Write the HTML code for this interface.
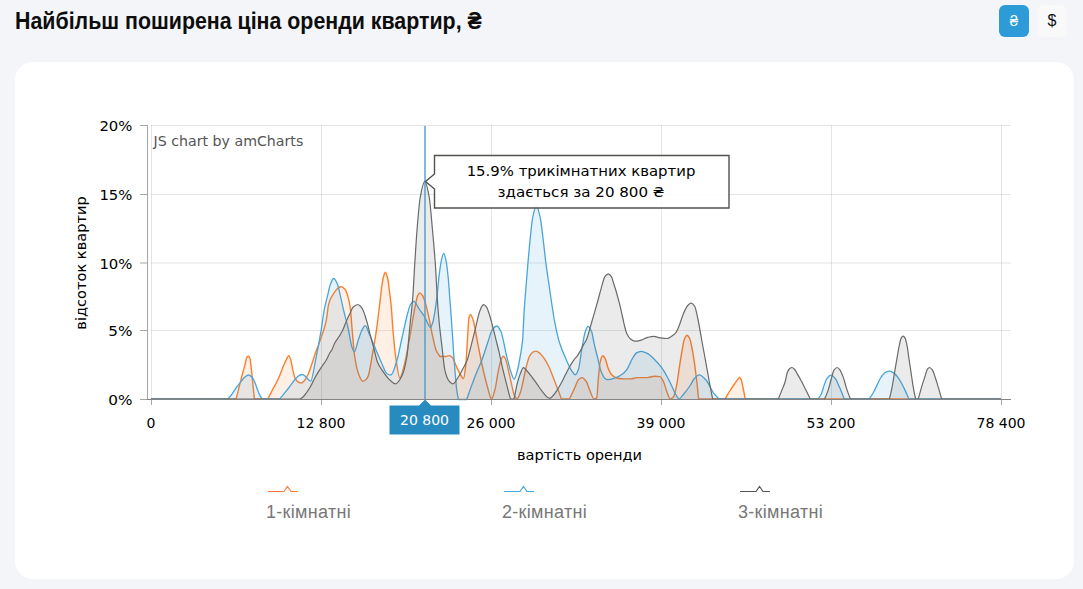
<!DOCTYPE html>
<html lang="uk">
<head>
<meta charset="utf-8">
<title>Найбільш поширена ціна оренди квартир</title>
<style>
html,body{margin:0;padding:0;}
body{width:1083px;height:589px;background:#f4f5f9;position:relative;overflow:hidden;font-family:"Liberation Sans",Arial,sans-serif;}
h1{position:absolute;left:15px;top:7px;margin:0;font-size:24px;line-height:28px;font-weight:700;color:#0d0d0d;white-space:nowrap;transform:scaleX(0.89);transform-origin:0 0;}
.btn{position:absolute;top:5px;width:30px;height:32px;border-radius:6px;text-align:center;line-height:32px;font-size:16px;font-family:"DejaVu Sans","Liberation Sans",sans-serif;}
.b1{left:999px;background:#2d9bd7;color:#fff;font-size:15px;font-family:"Liberation Sans",sans-serif;}
.b2{left:1037px;background:#f9f9fa;color:#111;font-family:"Liberation Sans",sans-serif;}
.card{position:absolute;left:15px;top:62px;width:1059px;height:517px;background:#fff;border-radius:18px;}
svg.chart{position:absolute;left:0;top:0;}
svg text{font-family:"DejaVu Sans",Verdana,sans-serif;}
.leg{position:absolute;top:501px;font-size:18px;color:#777;line-height:22px;white-space:nowrap;letter-spacing:0.3px;}
</style>
</head>
<body>
<h1>Найбільш поширена ціна оренди квартир, ₴</h1>
<div class="btn b1">₴</div>
<div class="btn b2">$</div>
<div class="card"></div>
<svg class="chart" width="1083" height="589" viewBox="0 0 1083 589">
  <!-- grid -->
  <g stroke="#000" stroke-opacity="0.1" stroke-width="1" fill="none">
    <path d="M151,125.5H1011M151,194.5H1011M151,263H1011M151,330.5H1011"/>
  </g>
  <g stroke="#000" stroke-opacity="0.1" stroke-width="1" fill="none">
    <path d="M151.5,125V399M321.5,125V399M491.5,125V399M661.5,125V399M831.5,125V399M1001.5,125V399"/>
  </g>
  <!-- axes -->
  <g stroke="#a6a6a6" stroke-width="1" fill="none">
    <path d="M147.5,125V399.5"/>
    <path d="M140,125.5H148M140,194.5H148M140,263H148M140,330.5H148M140,399.5H151"/>
    <path d="M151.5,399V405M321.5,399V405M491.5,399V405M661.5,399V405M831.5,399V405M1001.5,399V405"/>
  </g>
  <!-- series -->
  <path d="M151.0,399.0L213.0,399.0C214.83,398.92 216.67,398.70 218.50,398.70C220.33,398.70 222.17,398.92 224.00,399.00L236.1,399.0C237.80,393.22 239.50,385.09 241.20,378.60C242.40,374.02 243.60,369.98 244.80,365.40C245.47,362.86 246.13,358.49 246.80,357.50C247.33,356.71 247.87,356.00 248.40,356.00C248.90,356.00 249.40,356.97 249.90,358.20C250.40,359.43 250.90,365.10 251.40,369.40C251.93,373.99 252.47,380.65 253.00,385.70C253.50,390.44 254.00,395.23 254.50,399.00L267.7,399.0C269.27,396.45 270.83,392.96 272.40,390.00C274.13,386.72 275.87,383.85 277.60,380.30C278.10,379.28 278.60,378.17 279.10,377.00C280.67,373.34 282.23,368.58 283.80,365.00C284.87,362.56 285.93,360.20 287.00,358.30C287.57,357.29 288.13,355.60 288.70,355.60C289.40,355.60 290.10,357.93 290.80,360.00C291.50,362.07 292.20,367.61 292.90,370.50C293.60,373.39 294.30,376.46 295.00,377.90C295.87,379.68 296.73,381.04 297.60,381.60C298.87,382.41 300.13,383.10 301.40,383.10C302.43,383.10 303.47,381.66 304.50,380.50C305.67,379.19 306.83,376.93 308.00,374.50C310.60,369.08 313.20,359.22 315.80,352.00C317.53,347.18 319.27,343.15 321.00,338.00C322.73,332.85 324.47,328.91 326.20,320.80C326.97,317.21 327.73,308.25 328.50,305.00C329.17,302.18 329.83,300.29 330.50,298.80C331.40,296.79 332.30,295.53 333.20,294.20C334.77,291.88 336.33,289.19 337.90,288.20C338.97,287.53 340.03,286.80 341.10,286.80C342.47,286.80 343.83,288.00 345.20,289.50C346.13,290.52 347.07,293.68 348.00,296.90C348.77,299.54 349.53,302.64 350.30,308.00C350.87,311.96 351.43,321.67 352.00,328.00C352.90,338.06 353.80,350.67 354.70,356.50C355.97,364.71 357.23,370.40 358.50,373.70C359.90,377.35 361.30,381.30 362.70,381.30C363.63,381.30 364.57,380.66 365.50,380.00C366.40,379.37 367.30,378.06 368.20,376.10C369.53,373.20 370.87,363.04 372.20,355.70C373.57,348.18 374.93,340.56 376.30,331.20C377.33,324.12 378.37,315.00 379.40,306.70C380.40,298.67 381.40,287.79 382.40,282.20C382.90,279.40 383.40,276.97 383.90,275.50C384.40,274.03 384.90,272.20 385.40,272.20C386.17,272.20 386.93,275.41 387.70,278.50C388.33,281.06 388.97,287.28 389.60,292.30C390.20,297.06 390.80,301.44 391.40,308.00C391.87,313.11 392.33,322.51 392.80,328.00C394.00,342.11 395.20,354.80 396.40,362.20C397.53,369.19 398.67,377.80 399.80,377.80C401.20,377.80 402.60,370.97 404.00,366.00C405.90,359.26 407.80,347.59 409.70,337.50C411.60,327.41 413.50,314.41 415.40,305.20C416.10,301.81 416.80,297.45 417.50,296.00C418.27,294.41 419.03,292.90 419.80,292.90C420.70,292.90 421.60,294.24 422.50,295.50C423.30,296.62 424.10,299.01 424.90,301.40C426.17,305.19 427.43,310.97 428.70,316.60C429.97,322.23 431.23,329.97 432.50,335.60C433.77,341.23 435.03,348.04 436.30,350.80C437.57,353.56 438.83,354.88 440.10,356.50L445.7,356.5C446.97,356.25 448.23,355.60 449.50,355.60C450.47,355.60 451.43,356.54 452.40,357.50C453.67,358.75 454.93,363.31 456.20,366.00C457.47,368.69 458.73,371.61 460.00,373.70C461.17,375.63 462.33,378.60 463.50,378.60C464.23,378.60 464.97,372.15 465.70,366.00C466.33,360.69 466.97,346.87 467.60,337.50C468.03,331.09 468.47,320.49 468.90,318.50C469.40,316.21 469.90,314.50 470.40,314.50C471.37,314.50 472.33,317.59 473.30,320.40C474.23,323.11 475.17,329.70 476.10,334.50C477.40,341.18 478.70,348.63 480.00,355.00C481.23,361.04 482.47,366.76 483.70,372.00C484.97,377.38 486.23,382.68 487.50,387.00C488.83,391.55 490.17,399.00 491.50,399.00C492.67,399.00 493.83,393.79 495.00,389.50C496.07,385.58 497.13,376.62 498.20,371.60C499.23,366.74 500.27,360.95 501.30,359.00C502.00,357.68 502.70,356.30 503.40,356.30C504.10,356.30 504.80,357.69 505.50,359.00C506.57,361.00 507.63,367.16 508.70,371.60C509.73,375.90 510.77,381.03 511.80,385.30C512.70,389.02 513.60,394.20 514.50,395.80C515.37,397.34 516.23,398.80 517.10,398.80C518.17,398.80 519.23,395.40 520.30,392.60C521.33,389.88 522.37,384.46 523.40,380.00C524.47,375.40 525.53,369.22 526.60,365.30C527.63,361.51 528.67,357.54 529.70,355.80C530.77,354.00 531.83,352.62 532.90,352.10C533.97,351.58 535.03,351.10 536.10,351.10C537.50,351.10 538.90,352.54 540.30,353.70C541.70,354.86 543.10,356.86 544.50,358.90C545.90,360.94 547.30,363.44 548.70,366.30C549.73,368.41 550.77,371.12 551.80,373.70C552.87,376.37 553.93,379.34 555.00,382.10C556.17,385.11 557.33,387.96 558.50,391.00C559.50,393.60 560.50,396.73 561.50,399.00L569.3,399.0C571.03,396.00 572.77,392.05 574.50,388.40C575.83,385.59 577.17,380.96 578.50,379.70C579.63,378.63 580.77,377.60 581.90,377.60C583.37,377.60 584.83,379.53 586.30,381.50C587.43,383.02 588.57,387.54 589.70,390.10C591.17,393.41 592.63,399.00 594.10,399.00C594.97,399.00 595.83,398.66 596.70,397.90C597.27,397.41 597.83,383.83 598.40,378.00C598.97,372.17 599.53,364.75 600.10,362.40C600.97,358.81 601.83,355.80 602.70,355.80C603.57,355.80 604.43,357.38 605.30,358.90C606.17,360.42 607.03,365.42 607.90,367.60C609.07,370.53 610.23,373.29 611.40,374.50C613.13,376.30 614.87,377.61 616.60,378.00C618.90,378.52 621.20,378.64 623.50,378.90L630.5,378.9C632.80,378.53 635.10,377.97 637.40,377.60L647.8,377.6C650.10,377.23 652.40,376.30 654.70,376.30C656.43,376.30 658.17,376.40 659.90,376.60C661.07,376.74 662.23,379.28 663.40,381.50C664.57,383.72 665.73,389.04 666.90,391.90C668.03,394.68 669.17,399.00 670.30,399.00C671.40,399.00 672.50,398.05 673.60,396.80C674.70,395.55 675.80,389.50 676.90,384.00C677.70,380.00 678.50,373.00 679.30,367.80C680.17,362.16 681.03,356.25 681.90,351.50C682.73,346.93 683.57,341.29 684.40,339.30C685.27,337.23 686.13,335.20 687.00,335.20C687.83,335.20 688.67,336.67 689.50,338.20C690.53,340.10 691.57,346.11 692.60,351.50C693.43,355.84 694.27,361.73 695.10,367.80C695.80,372.90 696.50,378.65 697.20,385.00C697.67,389.23 698.13,395.03 698.60,399.00L725.0,399.0C726.50,396.88 728.00,393.87 729.50,391.50C731.17,388.87 732.83,386.39 734.50,384.00C735.83,382.09 737.17,380.00 738.50,378.50C738.87,378.09 739.23,377.40 739.60,377.40C740.07,377.40 740.53,378.38 741.00,379.30C741.70,380.68 742.40,384.83 743.10,388.00C743.83,391.32 744.57,395.88 745.30,399.00L1001.0,399.0L1001.0,399L151.0,399Z" fill="#ff7f27" fill-opacity="0.12" stroke="none"/>
  <path d="M151.0,399.0L213.0,399.0C214.83,398.92 216.67,398.70 218.50,398.70C220.33,398.70 222.17,398.92 224.00,399.00L236.1,399.0C237.80,393.22 239.50,385.09 241.20,378.60C242.40,374.02 243.60,369.98 244.80,365.40C245.47,362.86 246.13,358.49 246.80,357.50C247.33,356.71 247.87,356.00 248.40,356.00C248.90,356.00 249.40,356.97 249.90,358.20C250.40,359.43 250.90,365.10 251.40,369.40C251.93,373.99 252.47,380.65 253.00,385.70C253.50,390.44 254.00,395.23 254.50,399.00L267.7,399.0C269.27,396.45 270.83,392.96 272.40,390.00C274.13,386.72 275.87,383.85 277.60,380.30C278.10,379.28 278.60,378.17 279.10,377.00C280.67,373.34 282.23,368.58 283.80,365.00C284.87,362.56 285.93,360.20 287.00,358.30C287.57,357.29 288.13,355.60 288.70,355.60C289.40,355.60 290.10,357.93 290.80,360.00C291.50,362.07 292.20,367.61 292.90,370.50C293.60,373.39 294.30,376.46 295.00,377.90C295.87,379.68 296.73,381.04 297.60,381.60C298.87,382.41 300.13,383.10 301.40,383.10C302.43,383.10 303.47,381.66 304.50,380.50C305.67,379.19 306.83,376.93 308.00,374.50C310.60,369.08 313.20,359.22 315.80,352.00C317.53,347.18 319.27,343.15 321.00,338.00C322.73,332.85 324.47,328.91 326.20,320.80C326.97,317.21 327.73,308.25 328.50,305.00C329.17,302.18 329.83,300.29 330.50,298.80C331.40,296.79 332.30,295.53 333.20,294.20C334.77,291.88 336.33,289.19 337.90,288.20C338.97,287.53 340.03,286.80 341.10,286.80C342.47,286.80 343.83,288.00 345.20,289.50C346.13,290.52 347.07,293.68 348.00,296.90C348.77,299.54 349.53,302.64 350.30,308.00C350.87,311.96 351.43,321.67 352.00,328.00C352.90,338.06 353.80,350.67 354.70,356.50C355.97,364.71 357.23,370.40 358.50,373.70C359.90,377.35 361.30,381.30 362.70,381.30C363.63,381.30 364.57,380.66 365.50,380.00C366.40,379.37 367.30,378.06 368.20,376.10C369.53,373.20 370.87,363.04 372.20,355.70C373.57,348.18 374.93,340.56 376.30,331.20C377.33,324.12 378.37,315.00 379.40,306.70C380.40,298.67 381.40,287.79 382.40,282.20C382.90,279.40 383.40,276.97 383.90,275.50C384.40,274.03 384.90,272.20 385.40,272.20C386.17,272.20 386.93,275.41 387.70,278.50C388.33,281.06 388.97,287.28 389.60,292.30C390.20,297.06 390.80,301.44 391.40,308.00C391.87,313.11 392.33,322.51 392.80,328.00C394.00,342.11 395.20,354.80 396.40,362.20C397.53,369.19 398.67,377.80 399.80,377.80C401.20,377.80 402.60,370.97 404.00,366.00C405.90,359.26 407.80,347.59 409.70,337.50C411.60,327.41 413.50,314.41 415.40,305.20C416.10,301.81 416.80,297.45 417.50,296.00C418.27,294.41 419.03,292.90 419.80,292.90C420.70,292.90 421.60,294.24 422.50,295.50C423.30,296.62 424.10,299.01 424.90,301.40C426.17,305.19 427.43,310.97 428.70,316.60C429.97,322.23 431.23,329.97 432.50,335.60C433.77,341.23 435.03,348.04 436.30,350.80C437.57,353.56 438.83,354.88 440.10,356.50L445.7,356.5C446.97,356.25 448.23,355.60 449.50,355.60C450.47,355.60 451.43,356.54 452.40,357.50C453.67,358.75 454.93,363.31 456.20,366.00C457.47,368.69 458.73,371.61 460.00,373.70C461.17,375.63 462.33,378.60 463.50,378.60C464.23,378.60 464.97,372.15 465.70,366.00C466.33,360.69 466.97,346.87 467.60,337.50C468.03,331.09 468.47,320.49 468.90,318.50C469.40,316.21 469.90,314.50 470.40,314.50C471.37,314.50 472.33,317.59 473.30,320.40C474.23,323.11 475.17,329.70 476.10,334.50C477.40,341.18 478.70,348.63 480.00,355.00C481.23,361.04 482.47,366.76 483.70,372.00C484.97,377.38 486.23,382.68 487.50,387.00C488.83,391.55 490.17,399.00 491.50,399.00C492.67,399.00 493.83,393.79 495.00,389.50C496.07,385.58 497.13,376.62 498.20,371.60C499.23,366.74 500.27,360.95 501.30,359.00C502.00,357.68 502.70,356.30 503.40,356.30C504.10,356.30 504.80,357.69 505.50,359.00C506.57,361.00 507.63,367.16 508.70,371.60C509.73,375.90 510.77,381.03 511.80,385.30C512.70,389.02 513.60,394.20 514.50,395.80C515.37,397.34 516.23,398.80 517.10,398.80C518.17,398.80 519.23,395.40 520.30,392.60C521.33,389.88 522.37,384.46 523.40,380.00C524.47,375.40 525.53,369.22 526.60,365.30C527.63,361.51 528.67,357.54 529.70,355.80C530.77,354.00 531.83,352.62 532.90,352.10C533.97,351.58 535.03,351.10 536.10,351.10C537.50,351.10 538.90,352.54 540.30,353.70C541.70,354.86 543.10,356.86 544.50,358.90C545.90,360.94 547.30,363.44 548.70,366.30C549.73,368.41 550.77,371.12 551.80,373.70C552.87,376.37 553.93,379.34 555.00,382.10C556.17,385.11 557.33,387.96 558.50,391.00C559.50,393.60 560.50,396.73 561.50,399.00L569.3,399.0C571.03,396.00 572.77,392.05 574.50,388.40C575.83,385.59 577.17,380.96 578.50,379.70C579.63,378.63 580.77,377.60 581.90,377.60C583.37,377.60 584.83,379.53 586.30,381.50C587.43,383.02 588.57,387.54 589.70,390.10C591.17,393.41 592.63,399.00 594.10,399.00C594.97,399.00 595.83,398.66 596.70,397.90C597.27,397.41 597.83,383.83 598.40,378.00C598.97,372.17 599.53,364.75 600.10,362.40C600.97,358.81 601.83,355.80 602.70,355.80C603.57,355.80 604.43,357.38 605.30,358.90C606.17,360.42 607.03,365.42 607.90,367.60C609.07,370.53 610.23,373.29 611.40,374.50C613.13,376.30 614.87,377.61 616.60,378.00C618.90,378.52 621.20,378.64 623.50,378.90L630.5,378.9C632.80,378.53 635.10,377.97 637.40,377.60L647.8,377.6C650.10,377.23 652.40,376.30 654.70,376.30C656.43,376.30 658.17,376.40 659.90,376.60C661.07,376.74 662.23,379.28 663.40,381.50C664.57,383.72 665.73,389.04 666.90,391.90C668.03,394.68 669.17,399.00 670.30,399.00C671.40,399.00 672.50,398.05 673.60,396.80C674.70,395.55 675.80,389.50 676.90,384.00C677.70,380.00 678.50,373.00 679.30,367.80C680.17,362.16 681.03,356.25 681.90,351.50C682.73,346.93 683.57,341.29 684.40,339.30C685.27,337.23 686.13,335.20 687.00,335.20C687.83,335.20 688.67,336.67 689.50,338.20C690.53,340.10 691.57,346.11 692.60,351.50C693.43,355.84 694.27,361.73 695.10,367.80C695.80,372.90 696.50,378.65 697.20,385.00C697.67,389.23 698.13,395.03 698.60,399.00L725.0,399.0C726.50,396.88 728.00,393.87 729.50,391.50C731.17,388.87 732.83,386.39 734.50,384.00C735.83,382.09 737.17,380.00 738.50,378.50C738.87,378.09 739.23,377.40 739.60,377.40C740.07,377.40 740.53,378.38 741.00,379.30C741.70,380.68 742.40,384.83 743.10,388.00C743.83,391.32 744.57,395.88 745.30,399.00L1001.0,399.0" fill="none" stroke="#fd7f2a" stroke-width="1.4" stroke-linejoin="round"/>
  <path d="M151.0,399.0L228.0,399.0C229.37,397.56 230.73,395.77 232.10,393.90C233.43,392.07 234.77,389.63 236.10,387.80C237.47,385.93 238.83,384.40 240.20,382.70C241.57,381.00 242.93,378.75 244.30,377.60C245.67,376.45 247.03,375.00 248.40,375.00C249.57,375.00 250.73,376.04 251.90,377.10C252.93,378.04 253.97,380.40 255.00,382.70C255.83,384.55 256.67,387.62 257.50,389.80C258.20,391.63 258.90,393.52 259.60,394.90C260.43,396.54 261.27,397.84 262.10,399.00L279.7,399.0C282.80,395.74 285.90,391.29 289.00,387.50C292.23,383.55 295.47,377.46 298.70,375.80C299.90,375.18 301.10,374.50 302.30,374.50C303.53,374.50 304.77,376.06 306.00,377.00C307.53,378.17 309.07,381.10 310.60,381.10C312.33,381.10 314.07,367.21 315.80,359.00C317.53,350.79 319.27,341.54 321.00,331.20C322.07,324.83 323.13,315.55 324.20,310.00C325.37,303.93 326.53,299.88 327.70,295.10C328.63,291.27 329.57,286.26 330.50,284.00C331.57,281.42 332.63,278.50 333.70,278.50C334.93,278.50 336.17,281.29 337.40,284.00C338.47,286.34 339.53,292.37 340.60,296.90C341.50,300.73 342.40,305.19 343.30,309.00C344.90,315.77 346.50,320.90 348.10,328.00C349.37,333.62 350.63,343.49 351.90,347.00C352.70,349.21 353.50,351.80 354.30,351.80C355.70,351.80 357.10,343.33 358.50,339.40C359.67,336.12 360.83,332.08 362.00,330.00C363.07,328.10 364.13,325.70 365.20,325.70C366.77,325.70 368.33,332.14 369.90,335.60C371.80,339.80 373.70,344.47 375.60,348.90C377.50,353.33 379.40,358.09 381.30,362.20C383.20,366.31 385.10,372.66 387.00,373.70C388.30,374.41 389.60,375.00 390.90,375.00C392.73,375.00 394.57,367.74 396.40,362.20C398.30,356.46 400.20,345.73 402.10,337.50C404.00,329.27 405.90,319.50 407.80,312.80C408.70,309.63 409.60,305.82 410.50,304.50C411.60,302.89 412.70,301.40 413.80,301.40C415.60,301.40 417.40,306.43 419.20,309.00C421.03,311.62 422.87,313.81 424.70,317.00C425.67,318.68 426.63,321.23 427.60,323.00C428.53,324.71 429.47,327.60 430.40,327.60C431.27,327.60 432.13,324.35 433.00,321.50C433.77,318.98 434.53,314.10 435.30,309.20C436.07,304.30 436.83,297.81 437.60,290.90C438.10,286.39 438.60,279.69 439.10,275.60C439.87,269.33 440.63,263.47 441.40,260.30C442.17,257.13 442.93,253.40 443.70,253.40C444.47,253.40 445.23,256.96 446.00,260.30C446.77,263.64 447.53,270.84 448.30,278.60C448.80,283.66 449.30,291.87 449.80,298.50C450.30,305.13 450.80,311.51 451.30,318.40C451.73,324.37 452.17,330.70 452.60,337.00C453.17,345.24 453.73,354.99 454.30,362.20C455.23,374.07 456.17,386.69 457.10,392.70C457.57,395.71 458.03,397.57 458.50,399.50L466.6,399.5C467.87,396.50 469.13,392.36 470.40,388.90C472.30,383.71 474.20,378.45 476.10,373.70C478.00,368.95 479.90,365.31 481.80,360.30C483.70,355.29 485.60,348.67 487.50,343.20C489.10,338.60 490.70,332.00 492.30,329.90C493.80,327.93 495.30,326.00 496.80,326.00C498.13,326.00 499.47,328.63 500.80,331.20C502.73,334.93 504.67,348.12 506.60,355.80C508.00,361.36 509.40,367.71 510.80,371.60C511.93,374.75 513.07,379.20 514.20,379.20C515.17,379.20 516.13,374.89 517.10,371.60C518.17,367.97 519.23,361.98 520.30,355.80C521.07,351.36 521.83,347.90 522.60,340.00C523.13,334.51 523.67,318.54 524.20,310.40C524.87,300.22 525.53,293.13 526.20,284.70C526.80,277.12 527.40,269.26 528.00,262.30C528.63,254.96 529.27,247.85 529.90,241.70C530.83,232.64 531.77,221.79 532.70,217.40C533.93,211.59 535.17,205.80 536.40,205.80C537.67,205.80 538.93,211.82 540.20,217.40C541.27,222.10 542.33,233.08 543.40,241.70C544.20,248.17 545.00,256.10 545.80,262.30C546.87,270.57 547.93,277.28 549.00,284.70C549.83,290.50 550.67,296.51 551.50,302.00C552.50,308.59 553.50,315.60 554.50,320.80C556.23,329.82 557.97,337.75 559.70,343.30C562.03,350.77 564.37,355.56 566.70,360.70C568.43,364.52 570.17,368.66 571.90,371.10C573.03,372.69 574.17,374.90 575.30,374.90C576.37,374.90 577.43,372.19 578.50,369.30C579.63,366.23 580.77,354.70 581.90,348.50C583.07,342.12 584.23,334.31 585.40,331.20C586.27,328.89 587.13,326.30 588.00,326.30C589.17,326.30 590.33,328.62 591.50,331.20C592.37,333.12 593.23,339.52 594.10,343.30C595.23,348.25 596.37,352.63 597.50,357.20C598.67,361.90 599.83,368.03 601.00,371.10C602.17,374.17 603.33,377.07 604.50,378.00C605.63,378.90 606.77,379.70 607.90,379.70C610.23,379.70 612.57,378.77 614.90,378.00C617.20,377.24 619.50,376.07 621.80,374.50C623.53,373.32 625.27,371.61 627.00,369.30C628.73,366.99 630.47,361.73 632.20,358.90C633.63,356.56 635.07,353.73 636.50,352.90C637.97,352.05 639.43,351.30 640.90,351.30C643.20,351.30 645.50,352.55 647.80,353.70C650.10,354.85 652.40,357.53 654.70,359.80C657.03,362.10 659.37,364.45 661.70,367.60C663.43,369.94 665.17,373.14 666.90,376.30C668.63,379.46 670.37,383.12 672.10,386.70C673.40,389.38 674.70,392.93 676.00,395.00C677.03,396.64 678.07,399.00 679.10,399.00C680.40,399.00 681.70,396.49 683.00,395.00C685.50,392.14 688.00,388.81 690.50,385.00C691.67,383.22 692.83,380.29 694.00,379.00C695.73,377.08 697.47,374.90 699.20,374.90C701.60,374.90 704.00,377.91 706.40,380.50C708.80,383.09 711.20,390.07 713.60,393.20C715.43,395.59 717.27,397.36 719.10,399.00L817.9,399.0C819.10,397.50 820.30,396.19 821.50,393.70C822.33,391.97 823.17,387.91 824.00,385.60C825.00,382.83 826.00,379.61 827.00,378.40C828.37,376.75 829.73,375.20 831.10,375.20C832.47,375.20 833.83,376.85 835.20,378.40C836.53,379.91 837.87,383.67 839.20,386.60C840.07,388.51 840.93,390.59 841.80,392.70C842.63,394.73 843.47,397.21 844.30,399.00L869.2,399.0C870.50,397.30 871.80,395.27 873.10,393.00C874.40,390.73 875.70,387.72 877.00,385.10C878.30,382.48 879.60,379.15 880.90,377.30C882.43,375.12 883.97,373.02 885.50,372.30C886.80,371.69 888.10,371.10 889.40,371.10C890.93,371.10 892.47,372.14 894.00,373.10C895.30,373.91 896.60,375.60 897.90,377.30C899.20,379.00 900.50,381.43 901.80,383.80C902.90,385.81 904.00,388.10 905.10,390.40C906.40,393.12 907.70,396.56 909.00,399.00L1001.0,399.0L1001.0,399L151.0,399Z" fill="#3aa0dc" fill-opacity="0.12" stroke="none"/>
  <path d="M151.0,399.0L228.0,399.0C229.37,397.56 230.73,395.77 232.10,393.90C233.43,392.07 234.77,389.63 236.10,387.80C237.47,385.93 238.83,384.40 240.20,382.70C241.57,381.00 242.93,378.75 244.30,377.60C245.67,376.45 247.03,375.00 248.40,375.00C249.57,375.00 250.73,376.04 251.90,377.10C252.93,378.04 253.97,380.40 255.00,382.70C255.83,384.55 256.67,387.62 257.50,389.80C258.20,391.63 258.90,393.52 259.60,394.90C260.43,396.54 261.27,397.84 262.10,399.00L279.7,399.0C282.80,395.74 285.90,391.29 289.00,387.50C292.23,383.55 295.47,377.46 298.70,375.80C299.90,375.18 301.10,374.50 302.30,374.50C303.53,374.50 304.77,376.06 306.00,377.00C307.53,378.17 309.07,381.10 310.60,381.10C312.33,381.10 314.07,367.21 315.80,359.00C317.53,350.79 319.27,341.54 321.00,331.20C322.07,324.83 323.13,315.55 324.20,310.00C325.37,303.93 326.53,299.88 327.70,295.10C328.63,291.27 329.57,286.26 330.50,284.00C331.57,281.42 332.63,278.50 333.70,278.50C334.93,278.50 336.17,281.29 337.40,284.00C338.47,286.34 339.53,292.37 340.60,296.90C341.50,300.73 342.40,305.19 343.30,309.00C344.90,315.77 346.50,320.90 348.10,328.00C349.37,333.62 350.63,343.49 351.90,347.00C352.70,349.21 353.50,351.80 354.30,351.80C355.70,351.80 357.10,343.33 358.50,339.40C359.67,336.12 360.83,332.08 362.00,330.00C363.07,328.10 364.13,325.70 365.20,325.70C366.77,325.70 368.33,332.14 369.90,335.60C371.80,339.80 373.70,344.47 375.60,348.90C377.50,353.33 379.40,358.09 381.30,362.20C383.20,366.31 385.10,372.66 387.00,373.70C388.30,374.41 389.60,375.00 390.90,375.00C392.73,375.00 394.57,367.74 396.40,362.20C398.30,356.46 400.20,345.73 402.10,337.50C404.00,329.27 405.90,319.50 407.80,312.80C408.70,309.63 409.60,305.82 410.50,304.50C411.60,302.89 412.70,301.40 413.80,301.40C415.60,301.40 417.40,306.43 419.20,309.00C421.03,311.62 422.87,313.81 424.70,317.00C425.67,318.68 426.63,321.23 427.60,323.00C428.53,324.71 429.47,327.60 430.40,327.60C431.27,327.60 432.13,324.35 433.00,321.50C433.77,318.98 434.53,314.10 435.30,309.20C436.07,304.30 436.83,297.81 437.60,290.90C438.10,286.39 438.60,279.69 439.10,275.60C439.87,269.33 440.63,263.47 441.40,260.30C442.17,257.13 442.93,253.40 443.70,253.40C444.47,253.40 445.23,256.96 446.00,260.30C446.77,263.64 447.53,270.84 448.30,278.60C448.80,283.66 449.30,291.87 449.80,298.50C450.30,305.13 450.80,311.51 451.30,318.40C451.73,324.37 452.17,330.70 452.60,337.00C453.17,345.24 453.73,354.99 454.30,362.20C455.23,374.07 456.17,386.69 457.10,392.70C457.57,395.71 458.03,397.57 458.50,399.50L466.6,399.5C467.87,396.50 469.13,392.36 470.40,388.90C472.30,383.71 474.20,378.45 476.10,373.70C478.00,368.95 479.90,365.31 481.80,360.30C483.70,355.29 485.60,348.67 487.50,343.20C489.10,338.60 490.70,332.00 492.30,329.90C493.80,327.93 495.30,326.00 496.80,326.00C498.13,326.00 499.47,328.63 500.80,331.20C502.73,334.93 504.67,348.12 506.60,355.80C508.00,361.36 509.40,367.71 510.80,371.60C511.93,374.75 513.07,379.20 514.20,379.20C515.17,379.20 516.13,374.89 517.10,371.60C518.17,367.97 519.23,361.98 520.30,355.80C521.07,351.36 521.83,347.90 522.60,340.00C523.13,334.51 523.67,318.54 524.20,310.40C524.87,300.22 525.53,293.13 526.20,284.70C526.80,277.12 527.40,269.26 528.00,262.30C528.63,254.96 529.27,247.85 529.90,241.70C530.83,232.64 531.77,221.79 532.70,217.40C533.93,211.59 535.17,205.80 536.40,205.80C537.67,205.80 538.93,211.82 540.20,217.40C541.27,222.10 542.33,233.08 543.40,241.70C544.20,248.17 545.00,256.10 545.80,262.30C546.87,270.57 547.93,277.28 549.00,284.70C549.83,290.50 550.67,296.51 551.50,302.00C552.50,308.59 553.50,315.60 554.50,320.80C556.23,329.82 557.97,337.75 559.70,343.30C562.03,350.77 564.37,355.56 566.70,360.70C568.43,364.52 570.17,368.66 571.90,371.10C573.03,372.69 574.17,374.90 575.30,374.90C576.37,374.90 577.43,372.19 578.50,369.30C579.63,366.23 580.77,354.70 581.90,348.50C583.07,342.12 584.23,334.31 585.40,331.20C586.27,328.89 587.13,326.30 588.00,326.30C589.17,326.30 590.33,328.62 591.50,331.20C592.37,333.12 593.23,339.52 594.10,343.30C595.23,348.25 596.37,352.63 597.50,357.20C598.67,361.90 599.83,368.03 601.00,371.10C602.17,374.17 603.33,377.07 604.50,378.00C605.63,378.90 606.77,379.70 607.90,379.70C610.23,379.70 612.57,378.77 614.90,378.00C617.20,377.24 619.50,376.07 621.80,374.50C623.53,373.32 625.27,371.61 627.00,369.30C628.73,366.99 630.47,361.73 632.20,358.90C633.63,356.56 635.07,353.73 636.50,352.90C637.97,352.05 639.43,351.30 640.90,351.30C643.20,351.30 645.50,352.55 647.80,353.70C650.10,354.85 652.40,357.53 654.70,359.80C657.03,362.10 659.37,364.45 661.70,367.60C663.43,369.94 665.17,373.14 666.90,376.30C668.63,379.46 670.37,383.12 672.10,386.70C673.40,389.38 674.70,392.93 676.00,395.00C677.03,396.64 678.07,399.00 679.10,399.00C680.40,399.00 681.70,396.49 683.00,395.00C685.50,392.14 688.00,388.81 690.50,385.00C691.67,383.22 692.83,380.29 694.00,379.00C695.73,377.08 697.47,374.90 699.20,374.90C701.60,374.90 704.00,377.91 706.40,380.50C708.80,383.09 711.20,390.07 713.60,393.20C715.43,395.59 717.27,397.36 719.10,399.00L817.9,399.0C819.10,397.50 820.30,396.19 821.50,393.70C822.33,391.97 823.17,387.91 824.00,385.60C825.00,382.83 826.00,379.61 827.00,378.40C828.37,376.75 829.73,375.20 831.10,375.20C832.47,375.20 833.83,376.85 835.20,378.40C836.53,379.91 837.87,383.67 839.20,386.60C840.07,388.51 840.93,390.59 841.80,392.70C842.63,394.73 843.47,397.21 844.30,399.00L869.2,399.0C870.50,397.30 871.80,395.27 873.10,393.00C874.40,390.73 875.70,387.72 877.00,385.10C878.30,382.48 879.60,379.15 880.90,377.30C882.43,375.12 883.97,373.02 885.50,372.30C886.80,371.69 888.10,371.10 889.40,371.10C890.93,371.10 892.47,372.14 894.00,373.10C895.30,373.91 896.60,375.60 897.90,377.30C899.20,379.00 900.50,381.43 901.80,383.80C902.90,385.81 904.00,388.10 905.10,390.40C906.40,393.12 907.70,396.56 909.00,399.00L1001.0,399.0" fill="none" stroke="#48a5d9" stroke-width="1.3" stroke-linejoin="round"/>
  <path d="M151.0,399.0L300.2,399.0C301.30,398.29 302.40,397.54 303.50,396.50C304.43,395.61 305.37,394.27 306.30,393.00C307.67,391.14 309.03,389.17 310.40,386.80C311.73,384.49 313.07,381.19 314.40,378.70C315.77,376.15 317.13,373.79 318.50,371.60C319.87,369.41 321.23,367.55 322.60,365.50C323.97,363.45 325.33,361.70 326.70,359.30C327.80,357.37 328.90,354.29 330.00,352.50C330.60,351.52 331.20,351.02 331.80,350.00C332.80,348.29 333.80,344.86 334.80,343.00C336.17,340.46 337.53,338.97 338.90,336.80C339.90,335.21 340.90,333.74 341.90,331.80C342.93,329.80 343.97,327.02 345.00,324.60C346.00,322.26 347.00,319.69 348.00,317.50C348.67,316.04 349.33,314.76 350.00,313.40C351.00,311.36 352.00,308.23 353.00,307.30C354.63,305.77 356.27,304.50 357.90,304.50C358.77,304.50 359.63,305.47 360.50,306.30C361.53,307.30 362.57,309.14 363.60,311.40C364.27,312.86 364.93,315.36 365.60,317.50C366.30,319.74 367.00,322.00 367.70,324.60C368.37,327.07 369.03,330.15 369.70,332.80C370.40,335.58 371.10,338.31 371.80,340.90C372.47,343.36 373.13,345.55 373.80,348.00C375.03,352.53 376.27,359.25 377.50,362.20C379.40,366.74 381.30,368.98 383.20,371.70C385.50,375.00 387.80,378.35 390.10,380.30C391.93,381.86 393.77,383.90 395.60,383.90C397.77,383.90 399.93,379.90 402.10,375.60C403.70,372.42 405.30,366.02 406.90,356.50C407.83,350.95 408.77,337.33 409.70,328.00C410.67,318.33 411.63,311.53 412.60,299.50C413.33,290.37 414.07,274.83 414.80,263.30C415.53,251.77 416.27,239.16 417.00,230.20C418.10,216.76 419.20,202.82 420.30,197.00C421.80,189.07 423.30,181.40 424.80,181.40C426.27,181.40 427.73,189.13 429.20,197.00C430.30,202.90 431.40,218.22 432.50,230.20C433.43,240.37 434.37,250.11 435.30,263.30C436.07,274.14 436.83,292.22 437.60,303.10C438.10,310.19 438.60,316.29 439.10,321.50C440.07,331.58 441.03,338.83 442.00,347.00C442.93,354.89 443.87,365.85 444.80,369.80C446.07,375.16 447.33,378.71 448.60,380.30C450.07,382.14 451.53,383.80 453.00,383.80C454.70,383.80 456.40,380.01 458.10,377.50C459.57,375.33 461.03,372.31 462.50,369.50C464.07,366.50 465.63,364.13 467.20,360.00C468.57,356.40 469.93,350.04 471.30,344.80C472.67,339.56 474.03,334.00 475.40,328.50C476.73,323.13 478.07,316.10 479.40,312.20C480.27,309.67 481.13,307.18 482.00,306.10C482.57,305.40 483.13,304.60 483.70,304.60C484.67,304.60 485.63,305.84 486.60,307.10C487.60,308.41 488.60,312.19 489.60,315.30C490.63,318.51 491.67,322.54 492.70,326.50C493.70,330.33 494.70,334.70 495.70,338.70C496.73,342.83 497.77,346.53 498.80,350.90C500.00,355.97 501.20,362.26 502.40,367.40C503.80,373.39 505.20,378.75 506.60,384.20C507.90,389.26 509.20,394.81 510.50,399.00L514.0,399.0C515.03,394.81 516.07,388.22 517.10,384.20C518.17,380.05 519.23,376.32 520.30,373.70C521.33,371.16 522.37,367.60 523.40,367.60C524.47,367.60 525.53,369.41 526.60,370.50C528.33,372.28 530.07,374.55 531.80,376.80C533.57,379.09 535.33,381.73 537.10,384.20C538.87,386.67 540.63,389.41 542.40,391.60C544.13,393.75 545.87,396.39 547.60,397.40C548.30,397.81 549.00,398.30 549.70,398.30C550.87,398.30 552.03,396.67 553.20,395.50C554.57,394.13 555.93,391.99 557.30,389.90C558.67,387.81 560.03,385.34 561.40,382.80C562.77,380.26 564.13,377.26 565.50,374.60C566.83,372.00 568.17,369.32 569.50,367.00C570.87,364.62 572.23,362.32 573.60,360.40C574.97,358.48 576.33,357.28 577.70,355.30C578.70,353.85 579.70,352.02 580.70,350.20C581.73,348.32 582.77,345.94 583.80,344.10C584.63,342.61 585.47,341.77 586.30,340.00C587.73,336.96 589.17,330.81 590.60,326.00C591.77,322.08 592.93,317.96 594.10,313.90C595.23,309.96 596.37,306.09 597.50,302.00C598.47,298.51 599.43,294.76 600.40,291.20C601.13,288.50 601.87,285.61 602.60,283.20C603.33,280.79 604.07,277.57 604.80,276.60C605.97,275.06 607.13,273.80 608.30,273.80C609.33,273.80 610.37,275.12 611.40,276.60C612.13,277.65 612.87,280.93 613.60,283.20C614.57,286.19 615.53,289.16 616.50,292.50C617.23,295.04 617.97,297.87 618.70,300.70C619.37,303.27 620.03,305.90 620.70,308.70C621.40,311.64 622.10,314.87 622.80,318.00C623.47,320.98 624.13,324.51 624.80,327.00C625.53,329.74 626.27,332.51 627.00,334.00C628.17,336.37 629.33,338.11 630.50,339.00C631.93,340.10 633.37,341.20 634.80,341.20C636.83,341.20 638.87,340.68 640.90,340.20C643.20,339.66 645.50,337.80 647.80,337.30C649.83,336.86 651.87,336.40 653.90,336.40C655.90,336.40 657.90,337.52 659.90,337.80C662.23,338.13 664.57,338.50 666.90,338.50C668.60,338.50 670.30,337.05 672.00,336.00C673.17,335.28 674.33,334.54 675.50,333.20C676.70,331.83 677.90,328.71 679.10,325.90C680.60,322.38 682.10,316.48 683.60,313.20C685.13,309.85 686.67,306.43 688.20,305.00C689.10,304.16 690.00,303.20 690.90,303.20C692.10,303.20 693.30,304.39 694.50,305.90C695.73,307.45 696.97,314.80 698.20,320.50C699.40,326.04 700.60,333.92 701.80,340.50C703.03,347.26 704.27,353.74 705.50,360.50C706.70,367.08 707.90,374.09 709.10,380.50C710.30,386.91 711.50,393.76 712.70,399.00L778.3,399.0C779.30,396.90 780.30,394.10 781.30,391.60C782.50,388.60 783.70,386.30 784.90,382.50C785.73,379.86 786.57,374.25 787.40,372.30C788.10,370.66 788.80,369.36 789.50,368.80C790.33,368.13 791.17,367.50 792.00,367.50C792.83,367.50 793.67,368.48 794.50,369.30C795.53,370.32 796.57,372.64 797.60,374.40C798.93,376.67 800.27,379.01 801.60,381.50C802.97,384.06 804.33,386.86 805.70,389.60C807.23,392.68 808.77,396.34 810.30,399.00L824.5,399.0C825.67,396.62 826.83,393.97 828.00,390.60C829.03,387.62 830.07,383.01 831.10,379.50C832.10,376.10 833.10,371.01 834.10,369.80C835.13,368.55 836.17,367.50 837.20,367.50C838.20,367.50 839.20,368.98 840.20,370.30C841.23,371.67 842.27,374.57 843.30,377.40C844.30,380.14 845.30,384.52 846.30,387.60C847.67,391.80 849.03,395.77 850.40,399.00L889.4,399.0C890.27,395.80 891.13,392.07 892.00,387.70C892.87,383.33 893.73,377.22 894.60,372.10C895.50,366.78 896.40,361.49 897.30,356.40C897.93,352.82 898.57,348.80 899.20,345.90C899.87,342.85 900.53,339.20 901.20,338.10C901.83,337.06 902.47,336.10 903.10,336.10C903.77,336.10 904.43,337.04 905.10,338.10C905.77,339.16 906.43,342.57 907.10,345.90C907.73,349.06 908.37,354.74 909.00,359.00C909.67,363.48 910.33,367.64 911.00,372.10C911.63,376.34 912.27,381.35 912.90,385.10C913.80,390.43 914.70,395.06 915.60,399.00L918.2,399.0C919.27,395.80 920.33,391.25 921.40,387.70C922.50,384.04 923.60,380.70 924.70,377.30C925.57,374.62 926.43,370.55 927.30,369.40C928.03,368.43 928.77,367.50 929.50,367.50C930.50,367.50 931.50,368.78 932.50,370.10C933.40,371.29 934.30,374.67 935.20,377.30C936.27,380.42 937.33,384.14 938.40,387.70C939.50,391.37 940.60,395.80 941.70,399.00L1001.0,399.0L1001.0,399L151.0,399Z" fill="#666666" fill-opacity="0.13" stroke="none"/>
  <path d="M151.0,399.0L300.2,399.0C301.30,398.29 302.40,397.54 303.50,396.50C304.43,395.61 305.37,394.27 306.30,393.00C307.67,391.14 309.03,389.17 310.40,386.80C311.73,384.49 313.07,381.19 314.40,378.70C315.77,376.15 317.13,373.79 318.50,371.60C319.87,369.41 321.23,367.55 322.60,365.50C323.97,363.45 325.33,361.70 326.70,359.30C327.80,357.37 328.90,354.29 330.00,352.50C330.60,351.52 331.20,351.02 331.80,350.00C332.80,348.29 333.80,344.86 334.80,343.00C336.17,340.46 337.53,338.97 338.90,336.80C339.90,335.21 340.90,333.74 341.90,331.80C342.93,329.80 343.97,327.02 345.00,324.60C346.00,322.26 347.00,319.69 348.00,317.50C348.67,316.04 349.33,314.76 350.00,313.40C351.00,311.36 352.00,308.23 353.00,307.30C354.63,305.77 356.27,304.50 357.90,304.50C358.77,304.50 359.63,305.47 360.50,306.30C361.53,307.30 362.57,309.14 363.60,311.40C364.27,312.86 364.93,315.36 365.60,317.50C366.30,319.74 367.00,322.00 367.70,324.60C368.37,327.07 369.03,330.15 369.70,332.80C370.40,335.58 371.10,338.31 371.80,340.90C372.47,343.36 373.13,345.55 373.80,348.00C375.03,352.53 376.27,359.25 377.50,362.20C379.40,366.74 381.30,368.98 383.20,371.70C385.50,375.00 387.80,378.35 390.10,380.30C391.93,381.86 393.77,383.90 395.60,383.90C397.77,383.90 399.93,379.90 402.10,375.60C403.70,372.42 405.30,366.02 406.90,356.50C407.83,350.95 408.77,337.33 409.70,328.00C410.67,318.33 411.63,311.53 412.60,299.50C413.33,290.37 414.07,274.83 414.80,263.30C415.53,251.77 416.27,239.16 417.00,230.20C418.10,216.76 419.20,202.82 420.30,197.00C421.80,189.07 423.30,181.40 424.80,181.40C426.27,181.40 427.73,189.13 429.20,197.00C430.30,202.90 431.40,218.22 432.50,230.20C433.43,240.37 434.37,250.11 435.30,263.30C436.07,274.14 436.83,292.22 437.60,303.10C438.10,310.19 438.60,316.29 439.10,321.50C440.07,331.58 441.03,338.83 442.00,347.00C442.93,354.89 443.87,365.85 444.80,369.80C446.07,375.16 447.33,378.71 448.60,380.30C450.07,382.14 451.53,383.80 453.00,383.80C454.70,383.80 456.40,380.01 458.10,377.50C459.57,375.33 461.03,372.31 462.50,369.50C464.07,366.50 465.63,364.13 467.20,360.00C468.57,356.40 469.93,350.04 471.30,344.80C472.67,339.56 474.03,334.00 475.40,328.50C476.73,323.13 478.07,316.10 479.40,312.20C480.27,309.67 481.13,307.18 482.00,306.10C482.57,305.40 483.13,304.60 483.70,304.60C484.67,304.60 485.63,305.84 486.60,307.10C487.60,308.41 488.60,312.19 489.60,315.30C490.63,318.51 491.67,322.54 492.70,326.50C493.70,330.33 494.70,334.70 495.70,338.70C496.73,342.83 497.77,346.53 498.80,350.90C500.00,355.97 501.20,362.26 502.40,367.40C503.80,373.39 505.20,378.75 506.60,384.20C507.90,389.26 509.20,394.81 510.50,399.00L514.0,399.0C515.03,394.81 516.07,388.22 517.10,384.20C518.17,380.05 519.23,376.32 520.30,373.70C521.33,371.16 522.37,367.60 523.40,367.60C524.47,367.60 525.53,369.41 526.60,370.50C528.33,372.28 530.07,374.55 531.80,376.80C533.57,379.09 535.33,381.73 537.10,384.20C538.87,386.67 540.63,389.41 542.40,391.60C544.13,393.75 545.87,396.39 547.60,397.40C548.30,397.81 549.00,398.30 549.70,398.30C550.87,398.30 552.03,396.67 553.20,395.50C554.57,394.13 555.93,391.99 557.30,389.90C558.67,387.81 560.03,385.34 561.40,382.80C562.77,380.26 564.13,377.26 565.50,374.60C566.83,372.00 568.17,369.32 569.50,367.00C570.87,364.62 572.23,362.32 573.60,360.40C574.97,358.48 576.33,357.28 577.70,355.30C578.70,353.85 579.70,352.02 580.70,350.20C581.73,348.32 582.77,345.94 583.80,344.10C584.63,342.61 585.47,341.77 586.30,340.00C587.73,336.96 589.17,330.81 590.60,326.00C591.77,322.08 592.93,317.96 594.10,313.90C595.23,309.96 596.37,306.09 597.50,302.00C598.47,298.51 599.43,294.76 600.40,291.20C601.13,288.50 601.87,285.61 602.60,283.20C603.33,280.79 604.07,277.57 604.80,276.60C605.97,275.06 607.13,273.80 608.30,273.80C609.33,273.80 610.37,275.12 611.40,276.60C612.13,277.65 612.87,280.93 613.60,283.20C614.57,286.19 615.53,289.16 616.50,292.50C617.23,295.04 617.97,297.87 618.70,300.70C619.37,303.27 620.03,305.90 620.70,308.70C621.40,311.64 622.10,314.87 622.80,318.00C623.47,320.98 624.13,324.51 624.80,327.00C625.53,329.74 626.27,332.51 627.00,334.00C628.17,336.37 629.33,338.11 630.50,339.00C631.93,340.10 633.37,341.20 634.80,341.20C636.83,341.20 638.87,340.68 640.90,340.20C643.20,339.66 645.50,337.80 647.80,337.30C649.83,336.86 651.87,336.40 653.90,336.40C655.90,336.40 657.90,337.52 659.90,337.80C662.23,338.13 664.57,338.50 666.90,338.50C668.60,338.50 670.30,337.05 672.00,336.00C673.17,335.28 674.33,334.54 675.50,333.20C676.70,331.83 677.90,328.71 679.10,325.90C680.60,322.38 682.10,316.48 683.60,313.20C685.13,309.85 686.67,306.43 688.20,305.00C689.10,304.16 690.00,303.20 690.90,303.20C692.10,303.20 693.30,304.39 694.50,305.90C695.73,307.45 696.97,314.80 698.20,320.50C699.40,326.04 700.60,333.92 701.80,340.50C703.03,347.26 704.27,353.74 705.50,360.50C706.70,367.08 707.90,374.09 709.10,380.50C710.30,386.91 711.50,393.76 712.70,399.00L778.3,399.0C779.30,396.90 780.30,394.10 781.30,391.60C782.50,388.60 783.70,386.30 784.90,382.50C785.73,379.86 786.57,374.25 787.40,372.30C788.10,370.66 788.80,369.36 789.50,368.80C790.33,368.13 791.17,367.50 792.00,367.50C792.83,367.50 793.67,368.48 794.50,369.30C795.53,370.32 796.57,372.64 797.60,374.40C798.93,376.67 800.27,379.01 801.60,381.50C802.97,384.06 804.33,386.86 805.70,389.60C807.23,392.68 808.77,396.34 810.30,399.00L824.5,399.0C825.67,396.62 826.83,393.97 828.00,390.60C829.03,387.62 830.07,383.01 831.10,379.50C832.10,376.10 833.10,371.01 834.10,369.80C835.13,368.55 836.17,367.50 837.20,367.50C838.20,367.50 839.20,368.98 840.20,370.30C841.23,371.67 842.27,374.57 843.30,377.40C844.30,380.14 845.30,384.52 846.30,387.60C847.67,391.80 849.03,395.77 850.40,399.00L889.4,399.0C890.27,395.80 891.13,392.07 892.00,387.70C892.87,383.33 893.73,377.22 894.60,372.10C895.50,366.78 896.40,361.49 897.30,356.40C897.93,352.82 898.57,348.80 899.20,345.90C899.87,342.85 900.53,339.20 901.20,338.10C901.83,337.06 902.47,336.10 903.10,336.10C903.77,336.10 904.43,337.04 905.10,338.10C905.77,339.16 906.43,342.57 907.10,345.90C907.73,349.06 908.37,354.74 909.00,359.00C909.67,363.48 910.33,367.64 911.00,372.10C911.63,376.34 912.27,381.35 912.90,385.10C913.80,390.43 914.70,395.06 915.60,399.00L918.2,399.0C919.27,395.80 920.33,391.25 921.40,387.70C922.50,384.04 923.60,380.70 924.70,377.30C925.57,374.62 926.43,370.55 927.30,369.40C928.03,368.43 928.77,367.50 929.50,367.50C930.50,367.50 931.50,368.78 932.50,370.10C933.40,371.29 934.30,374.67 935.20,377.30C936.27,380.42 937.33,384.14 938.40,387.70C939.50,391.37 940.60,395.80 941.70,399.00L1001.0,399.0" fill="none" stroke="#696a67" stroke-width="1.2" stroke-linejoin="round"/>
  <path d="M147,399.5H1011" stroke="#848484" stroke-width="1.2" fill="none"/>
  <!-- axis labels -->
  <g font-size="14" fill="#000" text-anchor="end">
    <text x="132.4" y="131" textLength="33" lengthAdjust="spacingAndGlyphs">20%</text>
    <text x="132.4" y="200" textLength="33" lengthAdjust="spacingAndGlyphs">15%</text>
    <text x="132.4" y="268.5" textLength="33" lengthAdjust="spacingAndGlyphs">10%</text>
    <text x="132.4" y="336" textLength="24.2" lengthAdjust="spacingAndGlyphs">5%</text>
    <text x="132.4" y="405" textLength="24.2" lengthAdjust="spacingAndGlyphs">0%</text>
  </g>
  <g font-size="14" fill="#000" text-anchor="middle">
    <text x="151" y="428">0</text>
    <text x="321" y="428">12 800</text>
    <text x="491" y="428">26 000</text>
    <text x="661" y="428">39 000</text>
    <text x="831" y="428">53 200</text>
    <text x="1001" y="428">78 400</text>
  </g>
  <text x="579.5" y="459.5" font-size="14" fill="#000" text-anchor="middle" textLength="125" lengthAdjust="spacingAndGlyphs">вартість оренди</text>
  <text transform="translate(85.8,263) rotate(-90)" font-size="14" fill="#000" text-anchor="middle" textLength="133.3" lengthAdjust="spacingAndGlyphs">відсоток квартир</text>
  <text x="153.5" y="146" font-size="14" fill="#555" textLength="149.8" lengthAdjust="spacingAndGlyphs">JS chart by amCharts</text>
  <!-- cursor -->
  <path d="M425,126V399" stroke="#459fd0" stroke-width="1.4"/>
  <g>
    <path d="M389.5,405.5H419L425,399.5L431,405.5H459.5V434.5H389.5Z" fill="#288bbf"/>
    <text x="424.5" y="425" font-size="14" fill="#fff" text-anchor="middle">20 800</text>
  </g>
  <g>
    <path d="M434.5,155.5H729V208H434.5V189L425.5,181.5L434.5,174Z" fill="#fff" fill-opacity="0.88" stroke="#51524d" stroke-width="1.4"/>
    <text x="581" y="176" font-size="14" fill="#000" text-anchor="middle" textLength="228.7" lengthAdjust="spacingAndGlyphs">15.9% трикімнатних квартир</text>
    <text x="581" y="196.5" font-size="14" fill="#000" text-anchor="middle" textLength="167" lengthAdjust="spacingAndGlyphs">здається за 20 800 ₴</text>
  </g>
  <!-- legend icons -->
  <g fill="none" stroke-width="1.2">
    <path d="M268,491.5H284L287.5,486.5L291,491.5H298" stroke="#ff7a3d"/>
    <path d="M504,491.5H520L523.5,486.5L527,491.5H534" stroke="#45a6dc"/>
    <path d="M740,491.5H756L759.5,486.5L763,491.5H770" stroke="#555"/>
  </g>
</svg>
<div class="leg" style="left:266px">1-кімнатні</div>
<div class="leg" style="left:502px">2-кімнатні</div>
<div class="leg" style="left:738px">3-кімнатні</div>
</body>
</html>
